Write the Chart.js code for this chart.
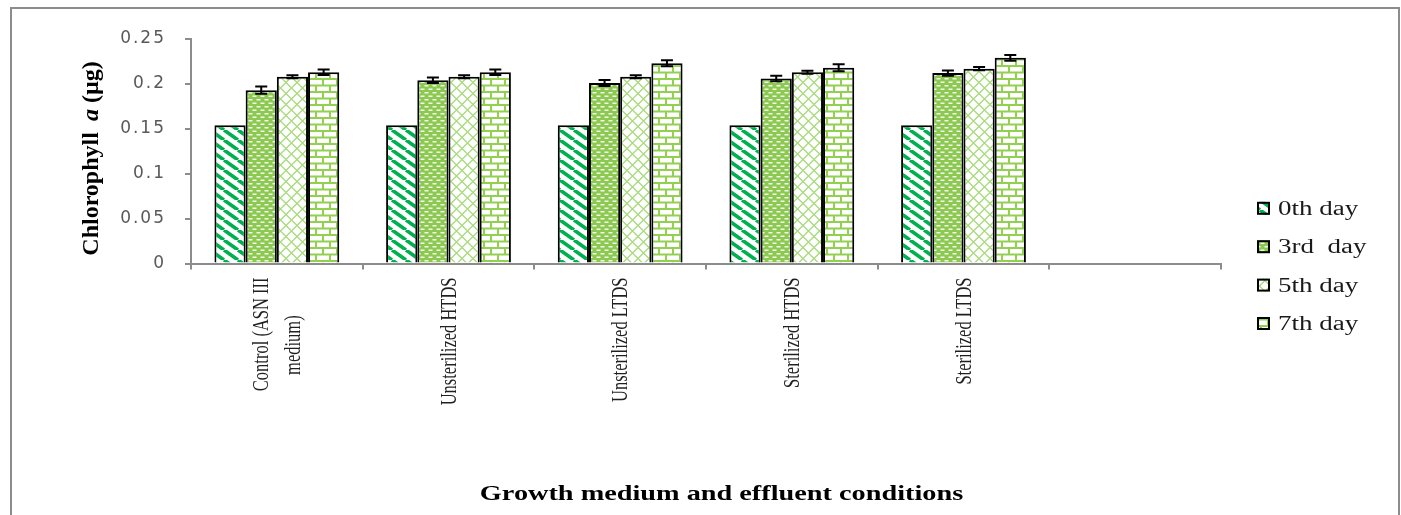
<!DOCTYPE html>
<html>
<head>
<meta charset="utf-8">
<script src="https://cdn.jsdelivr.net/npm/chart.js@4.4.1/dist/chart.umd.min.js"></script>
<style>
html,body{margin:0;padding:0;background:#fff;}
#wrap{position:relative;width:1401px;height:515px;overflow:hidden;background:#fff;}
#frame{position:absolute;left:10px;top:7px;width:1386px;height:600px;border:2px solid #8c8c8c;pointer-events:none;}
#c{position:absolute;left:0;top:0;}
</style>
</head>
<body>
<div id="wrap"><canvas id="c" width="1401" height="515"></canvas><div id="frame"></div></div>
<script>
// ---- data ----
const categories = [['Control (ASN III', 'medium)'], 'Unsterilized HTDS', 'Unsterilized LTDS', 'Sterilized HTDS', 'Sterilized LTDS', ''];
const seriesNames = ['0th day', '3rd  day', '5th day', '7th day'];
const day0 = [0.154, 0.154, 0.154, 0.154, 0.154, null];
const day3 = [0.193, 0.204, 0.201, 0.206, 0.212, null];
const day5 = [0.208, 0.208, 0.208, 0.213, 0.217, null];
const day7 = [0.213, 0.213, 0.223, 0.218, 0.229, null];
const err0 = [0, 0, 0, 0, 0, null];
const err3 = [0.004, 0.003, 0.0033, 0.003, 0.003, null];
const err5 = [0.0017, 0.0017, 0.0017, 0.0017, 0.0017, null];
const err7 = [0.003, 0.003, 0.0033, 0.004, 0.0033, null];
const yTickLabels = ['0', '0.05', '0.1', '0.15', '0.2', '0.25'];
const yTickValues = [0, 0.05, 0.1, 0.15, 0.2, 0.25];
const xTitle = 'Growth medium and effluent conditions';
const yTitleParts = ['Chlorophyll ', 'a', ' (\u00b5g)'];

// ---- patterns ----
function tile(w, h, draw) {
  const c = document.createElement('canvas');
  c.width = w; c.height = h;
  const g = c.getContext('2d');
  draw(g, w, h);
  return document.getElementById('c').getContext('2d').createPattern(c, 'repeat');
}
const pStripe = tile(14, 10, (g, w, h) => {
  g.fillStyle = '#fff'; g.fillRect(0, 0, w, h);
  g.strokeStyle = '#00b050'; g.lineWidth = 3.6;
  for (const k of [-14, 0, 14]) { g.beginPath(); g.moveTo(k, 0); g.lineTo(k + 14, 10); g.stroke(); }
});
const pDash = tile(8, 7, (g, w, h) => {
  g.fillStyle = '#8cc951'; g.fillRect(0, 0, w, h);
  g.fillStyle = '#f4faee';
  g.fillRect(0.5, 1, 4, 1.5);
  g.fillRect(4.5, 4.5, 3.5, 1.5); g.fillRect(0, 4.5, 0.5, 1.5);
});
const pDiamond = tile(11, 11, (g, w, h) => {
  g.fillStyle = '#fff'; g.fillRect(0, 0, w, h);
  g.strokeStyle = '#a9da7e'; g.lineWidth = 1.3;
  g.beginPath(); g.moveTo(0, 5.5); g.lineTo(5.5, 0); g.lineTo(11, 5.5); g.lineTo(5.5, 11); g.closePath(); g.stroke();
});
const pBrick = tile(14, 13, (g, w, h) => {
  g.fillStyle = '#92d050'; g.fillRect(0, 0, w, h);
  g.fillStyle = '#fff';
  g.fillRect(2, 2, 12, 4.5);
  g.fillRect(9, 8.5, 5, 4.5); g.fillRect(0, 8.5, 7, 4.5);
});

const seriesValues = [day0, day3, day5, day7];
const seriesErrors = [err0, err3, err5, err7];
const seriesFills = [pStripe, pDash, pDiamond, pBrick];

const datasets = seriesNames.map((n, i) => ({
  label: n,
  data: seriesValues[i],
  errors: seriesErrors[i],
  backgroundColor: seriesFills[i],
  borderColor: '#000',
  borderWidth: 2
}));

// ---- plugins ----
const spacing = {
  id: 'spacing',
  beforeDraw(chart) { chart.ctx.letterSpacing = '2px'; },
  beforeDatasetsDraw(chart) { chart.ctx.letterSpacing = '0px'; }
};

const errorBars = {
  id: 'errorBars',
  afterDatasetsDraw(chart) {
    const ctx = chart.ctx, y = chart.scales.y;
    ctx.save();
    ctx.strokeStyle = '#000'; ctx.lineWidth = 2;
    chart.data.datasets.forEach((ds, i) => {
      const meta = chart.getDatasetMeta(i);
      meta.data.forEach((bar, j) => {
        const v = ds.data[j], e = ds.errors[j];
        if (v == null || !e) return;
        const x = bar.x, y1 = y.getPixelForValue(v + e), y2 = y.getPixelForValue(v - e);
        ctx.beginPath();
        ctx.moveTo(x, y1); ctx.lineTo(x, y2);
        ctx.moveTo(x - 6, y1); ctx.lineTo(x + 6, y1);
        ctx.moveTo(x - 6, y2); ctx.lineTo(x + 6, y2);
        ctx.stroke();
      });
    });
    ctx.restore();
  }
};

const decorations = {
  id: 'decorations',
  afterDraw(chart) {
    const ctx = chart.ctx;
    ctx.letterSpacing = '0px';
    // category labels (rotated, drawn at the x scale's category centres)
    const xs = chart.scales.x;
    ctx.save();
    ctx.font = '16.5px "Liberation Serif"';
    ctx.fillStyle = '#1f1f1f';
    categories.forEach((lab, i) => {
      const lines = Array.isArray(lab) ? lab : [lab];
      const cx = xs.getPixelForValue(i) + 1;
      const widths = lines.map(l => ctx.measureText(l).width);
      const maxW = Math.max(...widths);
      lines.forEach((l, k) => {
        const off = (k - (lines.length - 1) / 2) * 32;
        ctx.save();
        ctx.translate(cx + off, xs.top + 14 + (maxW - widths[k]) * 0.7);
        ctx.rotate(-Math.PI / 2);
        ctx.scale(1, 1.45);
        ctx.textAlign = 'right'; ctx.textBaseline = 'middle';
        ctx.fillText(l, 0, 0);
        ctx.restore();
      });
    });
    ctx.restore();

    // legend
    ctx.save();
    chart.data.datasets.forEach((ds, i) => {
      const cy = 208.3 + i * 38.4;
      ctx.fillStyle = ds.backgroundColor;
      ctx.fillRect(1257, cy - 6.5, 13, 13);
      ctx.strokeStyle = '#000'; ctx.lineWidth = 2;
      ctx.strokeRect(1258, cy - 5.5, 11, 11);
      ctx.save();
      ctx.translate(1278, cy + 6.5);
      ctx.scale(1.35, 1);
      ctx.font = '20px "Liberation Serif"';
      ctx.fillStyle = '#1a1a1a';
      ctx.textAlign = 'left'; ctx.textBaseline = 'alphabetic';
      ctx.fillText(ds.label, 0, 0);
      ctx.restore();
    });
    ctx.restore();

    // x title
    ctx.save();
    ctx.translate(721.5, 500);
    ctx.scale(1.285, 1);
    ctx.font = 'bold 22px "Liberation Serif"';
    ctx.fillStyle = '#000';
    ctx.textAlign = 'center'; ctx.textBaseline = 'alphabetic';
    ctx.fillText(xTitle, 0, 0);
    ctx.restore();

    // y title (mixed italic)
    ctx.save();
    ctx.translate(92, 158.5);
    ctx.rotate(-Math.PI / 2);
    ctx.fillStyle = '#000';
    ctx.textBaseline = 'middle'; ctx.textAlign = 'left';
    const fonts = ['bold 24px "Liberation Serif"', 'italic bold 24px "Liberation Serif"', 'bold 24px "Liberation Serif"'];
    const gap = 5;
    let total = gap;
    const widths = yTitleParts.map((t, k) => { ctx.font = fonts[k]; const w = ctx.measureText(t).width; total += w; return w; });
    let x = -total / 2;
    yTitleParts.forEach((t, k) => {
      ctx.font = fonts[k];
      ctx.fillText(t, x, 0);
      x += widths[k] + (k === 0 ? gap : 0);
    });
    ctx.restore();
  }
};

new Chart(document.getElementById('c'), {
  type: 'bar',
  data: { labels: categories, datasets },
  options: {
    responsive: false,
    animation: false,
    devicePixelRatio: 1,
    layout: { padding: { left: 10, top: 39, right: 180, bottom: 0 } },
    plugins: { legend: { display: false }, tooltip: { enabled: false } },
    datasets: { bar: { categoryPercentage: 0.727, barPercentage: 1.0 } },
    scales: {
      x: {
        grid: { display: true, drawOnChartArea: false, drawTicks: true, tickLength: 6, color: '#8c8c8c', lineWidth: 2, offset: true },
        border: { color: '#8c8c8c', width: 2 },
        ticks: { display: false, autoSkip: false },
        afterFit(s) { s.height = 515 - 263.5; }
      },
      y: {
        min: 0, max: 0.25,
        afterBuildTicks(s) { s.ticks = yTickValues.map(v => ({ value: v })); },
        grid: { drawOnChartArea: false, drawTicks: true, tickLength: 6, color: '#8c8c8c', lineWidth: 2 },
        border: { color: '#8c8c8c', width: 2 },
        ticks: { padding: 19, color: '#595959', font: { family: 'DejaVu Sans', size: 17 }, callback: (v, i) => yTickLabels[i] },
        afterFit(s) { s.width = 191 - 10; }
      }
    }
  },
  plugins: [spacing, errorBars, decorations]
});
</script>
</body>
</html>
